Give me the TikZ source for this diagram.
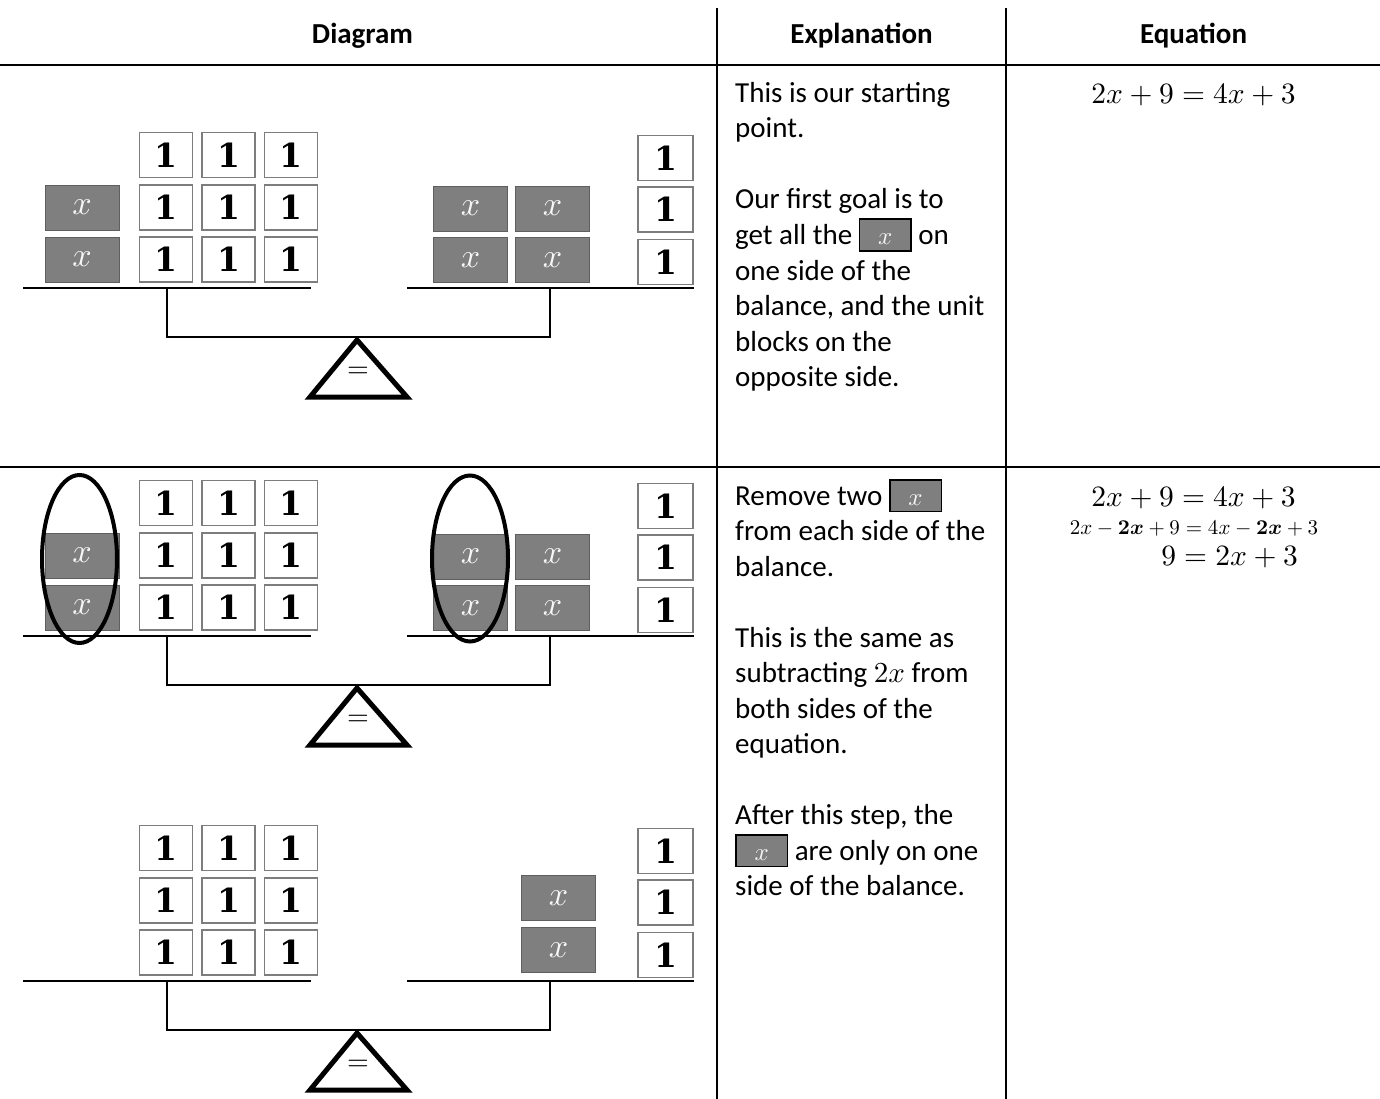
\documentclass[tikz,border=0pt]{standalone}
\usepackage{amsmath}
\usepackage[no-math]{fontspec}
\setmainfont{Carlito}
\newfontfamily\onefont{DejaVu Serif}
\DeclareFontShape{OT1}{cmr}{m}{n}{<->cmr10}{}
\DeclareFontShape{OML}{cmm}{m}{it}{<->cmmi10}{}
\DeclareFontShape{OML}{cmm}{b}{it}{<->cmmib10}{}
\DeclareFontShape{OMS}{cmsy}{m}{n}{<->cmsy10}{}
\DeclareFontShape{OT1}{cmr}{bx}{n}{<->cmbx10}{}
\usetikzlibrary{shapes.geometric}
\definecolor{xfill}{RGB}{127,127,127}
\definecolor{xedge}{RGB}{95,95,95}
\definecolor{uedge}{RGB}{125,125,125}
\definecolor{xtxt}{RGB}{246,246,246}
\newcommand\xchip{{\setlength\fboxsep{0pt}\setlength\fboxrule{1.5pt}\fcolorbox{black}{xfill}{\rule[-5.5pt]{0pt}{30pt}\makebox[50pt]{\color{xtxt}\fontsize{25}{25}\selectfont$x$}}}}
\tikzset{
  unitblk/.style={draw=uedge, line width=1.3pt, fill=white, minimum width=53pt, minimum height=45pt, inner sep=0pt, font=\onefont\bfseries\fontsize{33}{33}\selectfont},
  xblk/.style={draw=xedge, line width=0.8pt, fill=xfill, minimum width=74pt, minimum height=45pt, inner sep=0pt, text=xtxt, font=\fontsize{34}{34}\selectfont},
  beam/.style={line width=2pt},
  fulcrum/.style={line width=5pt},
  gridline/.style={line width=2pt},
  ring/.style={draw, line width=4pt, ellipse, inner sep=0pt},
  hdr/.style={font=\fontsize{29}{35}\selectfont\bfseries, anchor=base, inner sep=0pt},
  ln/.style={font=\fontsize{29}{35.5}\selectfont, anchor=base west, inner sep=0pt},
  eqn/.style={inner sep=0pt}
}
\newcommand\balancebase{%
  \draw[beam] (23,288) -- (311,288);
  \draw[beam] (407,288) -- (694,288);
  \draw[beam] (167,288) -- (167,337) -- (550,337) -- (550,288);
  \draw[fulcrum] (357,340) -- (407,397) -- (310,397) -- cycle;
  \node[inner sep=0pt, font=\fontsize{28}{28}\selectfont] (eq) at (358,372) {$=$};
}
\newcommand\unitgrid{%
  \foreach \c/\cx in {1/166,2/228.5,3/291}{
    \foreach \r/\ry in {1/155,2/207.5,3/259.5}{
      \node[unitblk] (u\c\r) at (\cx,\ry) {1};
    }
  }
}
\newcommand\rightunits{%
  \node[unitblk, minimum width=55pt] (r1) at (665.5,158) {1};
  \node[unitblk, minimum width=55pt] (r2) at (665.5,209.5) {1};
  \node[unitblk, minimum width=55pt] (r3) at (665.5,262) {1};
}
\begin{document}
\begin{tikzpicture}[x=1pt,y=-1pt]
\useasboundingbox (0,0) rectangle (1380,1099);
% table grid
\draw[gridline] (0,65) -- (1380,65);
\draw[gridline] (0,467) -- (1380,467);
\draw[gridline] (717,8) -- (717,1099);
\draw[gridline] (1006,8) -- (1006,1099);
\node[hdr] (h1) at (362.5,44) {Diagram};
\node[hdr] (h2) at (861.5,44) {Explanation};
\node[hdr] (h3) at (1193.5,44) {Equation};
% row 1 balance
\begin{scope}[name prefix=a-]
  \balancebase
  \unitgrid
  \node[xblk] (xl1) at (82,207.5) {$x$};
  \node[xblk] (xl2) at (82,259.5) {$x$};
  \node[xblk] (xr1) at (470.5,208.5) {$x$};
  \node[xblk] (xr2) at (552.5,208.5) {$x$};
  \node[xblk] (xr3) at (470.5,260) {$x$};
  \node[xblk] (xr4) at (552.5,260) {$x$};
  \rightunits
\end{scope}
% row 2 balance
\begin{scope}[shift={(0,348)}, name prefix=b-]
  \balancebase
  \unitgrid
  \node[xblk] (xl1) at (82,207.5) {$x$};
  \node[xblk] (xl2) at (82,259.5) {$x$};
  \node[xblk] (xr1) at (470.5,208.5) {$x$};
  \node[xblk] (xr2) at (552.5,208.5) {$x$};
  \node[xblk] (xr3) at (470.5,260) {$x$};
  \node[xblk] (xr4) at (552.5,260) {$x$};
  \rightunits
  \node[ring, minimum width=75pt, minimum height=168pt] (ringl) at (79.5,211) {};
  \node[ring, minimum width=76pt, minimum height=166pt] (ringr) at (470,210.5) {};
\end{scope}
% row 3 balance
\begin{scope}[shift={(0,693)}, name prefix=c-]
  \balancebase
  \unitgrid
  \node[xblk] (xr1) at (558.5,205) {$x$};
  \node[xblk] (xr2) at (558.5,257) {$x$};
  \rightunits
\end{scope}
% explanations, row 1
\node[ln] (t11) at (735,102.5) {This is our starting};
\node[ln] (t12) at (735,138) {point.};
\node[ln] (t13) at (735,209) {Our first goal is to};
\node[ln] (t14) at (735,244.5) {get all the \xchip{} on};
\node[ln] (t15) at (735,280) {one side of the};
\node[ln] (t16) at (735,315.5) {balance, and the unit};
\node[ln] (t17) at (735,351) {blocks on the};
\node[ln] (t18) at (735,386.5) {opposite side.};
% explanations, row 2
\node[ln] (t21) at (735,505) {Remove two \xchip};
\node[ln] (t22) at (735,540.5) {from each side of the};
\node[ln] (t23) at (735,576) {balance.};
\node[ln] (t24) at (735,647) {This is the same as};
\node[ln] (t25) at (735,682.5) {subtracting $2x$ from};
\node[ln] (t26) at (735,718) {both sides of the};
\node[ln] (t27) at (735,753.5) {equation.};
\node[ln] (t28) at (735,824.5) {After this step, the};
\node[ln] (t29) at (735,860) {\xchip{} are only on one};
\node[ln] (t2a) at (735,895.5) {side of the balance.};
% equations
\node[eqn, anchor=base] (e0) at (1193.5,103.5) {\fontsize{29.5}{29.5}\selectfont$2x+9=4x+3$};
\node[eqn, anchor=base] (e1) at (1193.5,506.5) {\fontsize{29.5}{29.5}\selectfont$2x+9=4x+3$};
\node[eqn, anchor=base] (e2) at (1194,534) {\fontsize{21}{21}\selectfont$2x-\boldsymbol{2x}+9=4x-\boldsymbol{2x}+3$};
\node[eqn, anchor=base east] (e3) at (1298,565.5) {\fontsize{29.5}{29.5}\selectfont$9=2x+3$};
\end{tikzpicture}
\end{document}
